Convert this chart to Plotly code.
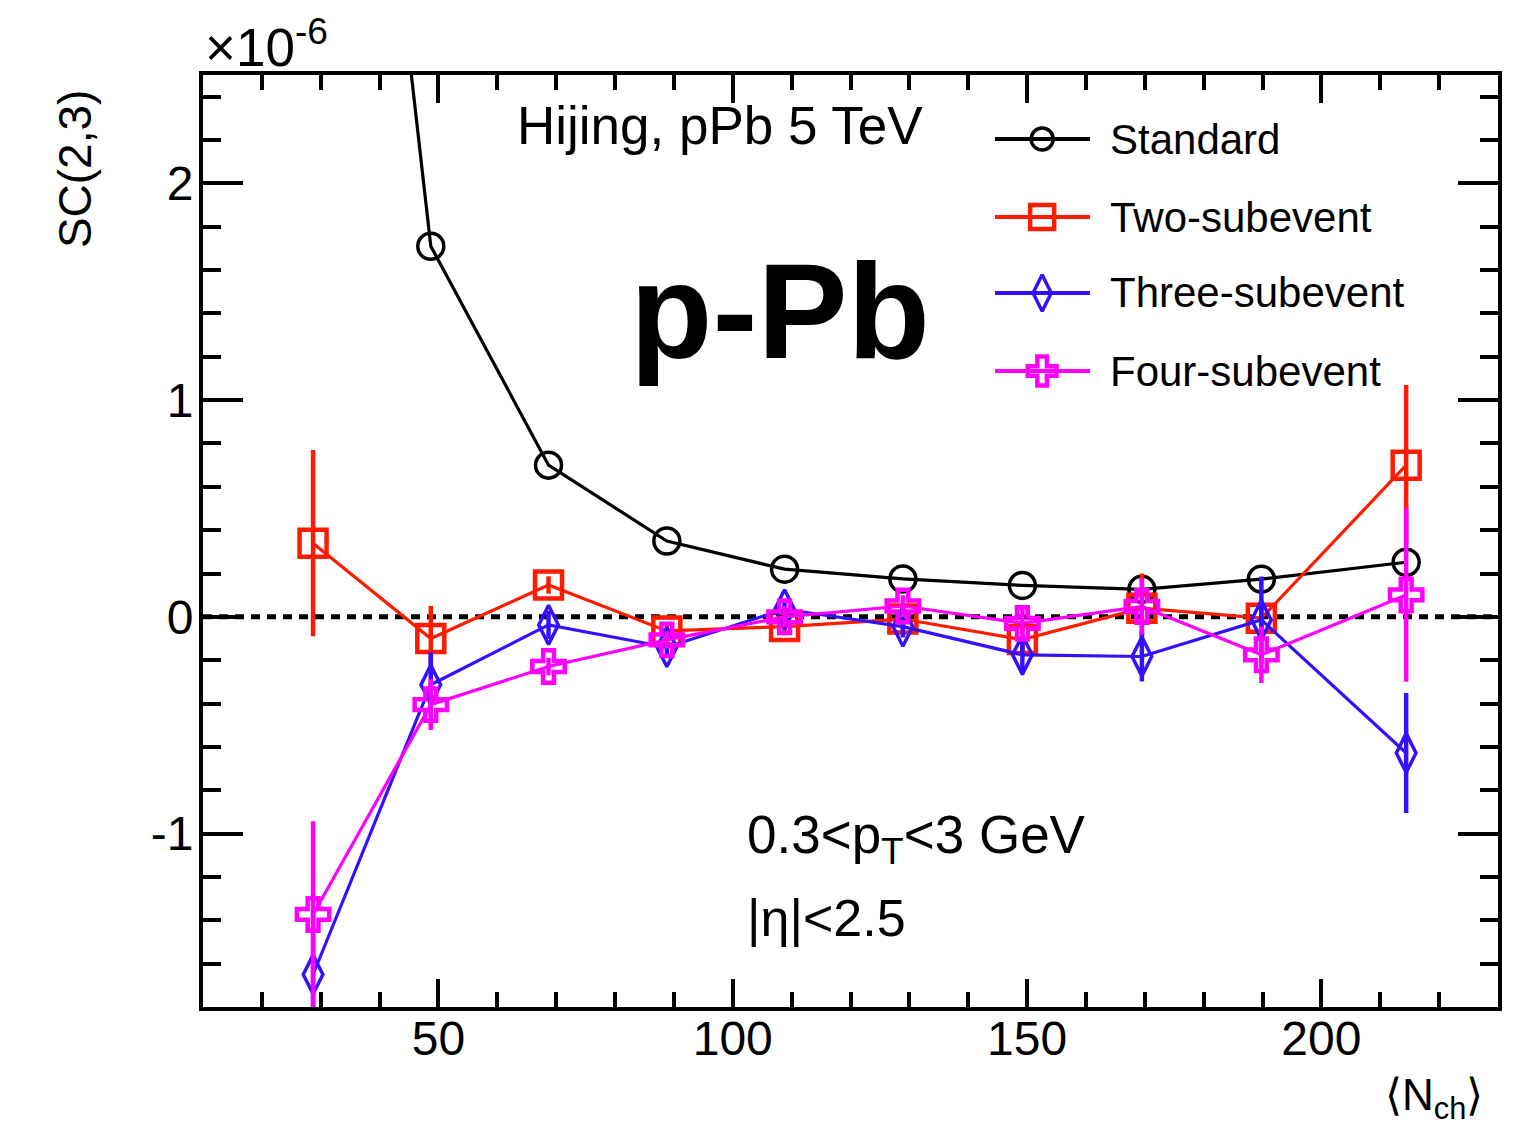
import plotly.graph_objects as go

# <N_ch> bin centres
nch = [28.7, 48.7, 68.7, 88.8, 108.8, 128.9, 149.2, 169.5, 189.8, 214.4]

# SC(2,3) in units of 1e-6
sc_standard = [6.5, 1.71, 0.70, 0.35, 0.22, 0.175, 0.145, 0.127, 0.174, 0.252]

sc_two = [0.34, -0.10, 0.147, -0.065, -0.045, -0.01, -0.105, 0.04, -0.006, 0.70]
err_two = [0.43, 0.15, 0.04, 0.04, 0.04, 0.05, 0.06, 0.16, 0.06, 0.37]

sc_three = [-1.65, -0.313, -0.037, -0.14, 0.035, -0.045, -0.175, -0.183, -0.014, -0.628]
err_three = [0.30, 0.15, 0.065, 0.05, 0.05, 0.05, 0.085, 0.115, 0.20, 0.277]

sc_four = [-1.373, -0.405, -0.229, -0.106, 0.0, 0.05, -0.03, 0.048, -0.175, 0.101]
err_four = [0.43, 0.117, 0.04, 0.04, 0.05, 0.05, 0.07, 0.13, 0.13, 0.40]

series_names = ["Standard", "Two-subevent", "Three-subevent", "Four-subevent"]

y_tick_vals = [-1, 0, 1, 2]
y_tick_text = ["-1", "0", "1", "2"]

BLACK = "#000000"
RED = "#ff1a00"
BLUE = "#3311ff"
MAGENTA = "#ff00ff"

FONT = "Liberation Sans, Arial, sans-serif"

styles = [
    dict(color=BLACK, symbol="circle-open", size=26, mlw=3.5),
    dict(color=RED, symbol="square-open", size=27, mlw=4.5),
    dict(color=BLUE, symbol="diamond-tall-open", size=28, mlw=3.5),
    dict(color=MAGENTA, symbol="cross-open", size=27, mlw=4.5),
]

fig = go.Figure()

values = [sc_standard, sc_two, sc_three, sc_four]
errors = [None, err_two, err_three, err_four]

for name, yv, ev, st in zip(series_names, values, errors, styles):
    kw = {}
    if ev is not None:
        kw["error_y"] = dict(type="data", array=ev, visible=True,
                             color=st["color"], thickness=4.5, width=0)
    fig.add_trace(go.Scatter(
        x=nch, y=yv, name=name, mode="lines+markers",
        line=dict(color=st["color"], width=3.2),
        marker=dict(symbol=st["symbol"], size=st["size"], color=st["color"],
                    line=dict(color=st["color"], width=st["mlw"])),
        showlegend=False, **kw))

# legend keys drawn on an overlay axis spanning the frame in [0, 1]
leg_x0, leg_xm, leg_x1 = 0.6116, 0.648, 0.685
leg_y = [0.9313, 0.8476, 0.7661, 0.6824]
leg_sizes = [22, 24, 26, 24]
for name, ly, st, ms in zip(series_names, leg_y, styles, leg_sizes):
    fig.add_trace(go.Scatter(
        x=[leg_x0, leg_x1], y=[ly, ly], mode="lines",
        line=dict(color=st["color"], width=4),
        xaxis="x2", yaxis="y2", showlegend=False, hoverinfo="skip"))
    fig.add_trace(go.Scatter(
        x=[leg_xm], y=[ly], mode="markers",
        marker=dict(symbol=st["symbol"], size=ms, color=st["color"],
                    line=dict(color=st["color"], width=st["mlw"])),
        xaxis="x2", yaxis="y2", showlegend=False, hoverinfo="skip"))
    fig.add_annotation(x=0.6985, y=ly, xref="paper", yref="paper",
                       text=name, showarrow=False, xanchor="left",
                       yanchor="middle",
                       font=dict(family=FONT, size=42, color="black"))

# dotted zero line
fig.add_shape(type="line", xref="paper", yref="y", x0=0, x1=1, y0=0, y1=0,
              line=dict(color="black", width=5, dash="9px,7px"), layer="below")

axis_common = dict(
    showline=True, linewidth=4, linecolor="black", mirror="ticks",
    ticks="inside", tickwidth=4, tickcolor="black",
    showgrid=False, zeroline=False,
    tickfont=dict(family=FONT, size=48, color="black"),
)

fig.update_layout(
    width=1536, height=1129,
    margin=dict(l=203, r=38, t=75, b=122),
    paper_bgcolor="white", plot_bgcolor="white",
    xaxis=dict(range=[10, 230], tick0=0, dtick=50, ticklen=28,
               minor=dict(dtick=10, ticklen=15, tickwidth=4,
                          ticks="inside", tickcolor="black"),
               ticklabelstandoff=-14, **axis_common),
    yaxis=dict(range=[-1.8, 2.5], tickmode="array", tickvals=y_tick_vals,
               ticktext=y_tick_text, ticklen=40,
               minor=dict(dtick=0.2, tick0=0, ticklen=18, tickwidth=4,
                          ticks="inside", tickcolor="black"),
               ticklabelstandoff=-4, **axis_common),
    xaxis2=dict(range=[0, 1], overlaying="x", visible=False, fixedrange=True),
    yaxis2=dict(range=[0, 1], overlaying="y", visible=False, fixedrange=True),
)

texts = [
    dict(x=0.0, y=1.034, text="×10<sup>-6</sup>", xanchor="left",
         yanchor="middle", size=53),
    dict(x=0.399, y=0.946, text="Hijing, pPb 5 TeV", xanchor="center",
         yanchor="middle", size=53),
    dict(x=0.4185, y=0.181, text="0.3&lt;p<sub>T</sub>&lt;3 GeV",
         xanchor="left", yanchor="middle", size=53),
    dict(x=0.4185, y=0.095, text="|η|&lt;2.5", xanchor="left",
         yanchor="middle", size=52),
    dict(x=0.99, y=-0.098, text="⟨N<sub>ch</sub>⟩", xanchor="right",
         yanchor="middle", size=44),
]
for t in texts:
    fig.add_annotation(x=t["x"], y=t["y"], xref="paper", yref="paper",
                       text=t["text"], showarrow=False, xanchor=t["xanchor"],
                       yanchor=t["yanchor"],
                       font=dict(family=FONT, size=t["size"], color="black"))

fig.add_annotation(x=0.4456, y=0.746, xref="paper", yref="paper",
                   text="<b>p-Pb</b>", showarrow=False, xanchor="center",
                   yanchor="middle",
                   font=dict(family=FONT, size=135, color="black"))

fig.add_annotation(x=-0.0988, y=0.986, xref="paper", yref="paper",
                   text="SC(2,3)", showarrow=False, textangle=-90,
                   xanchor="center", yanchor="top",
                   font=dict(family=FONT, size=46, color="black"))

fig.write_html("out.html")
